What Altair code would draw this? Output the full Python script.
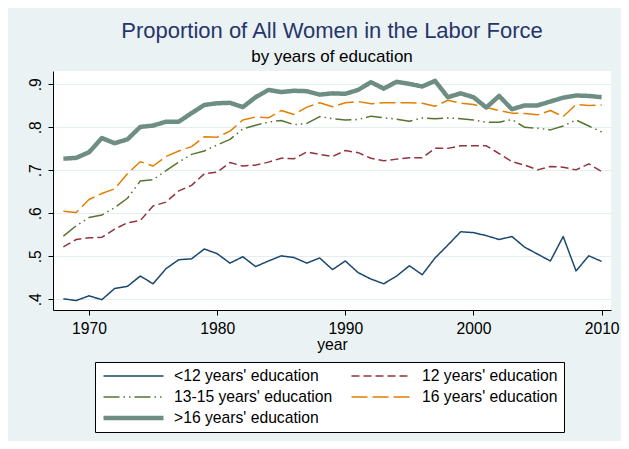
import altair as alt
import pandas as pd

years = list(range(1968, 2011))

lt12 = [0.401, 0.397, 0.408, 0.399, 0.425, 0.430, 0.454, 0.436, 0.471, 0.492, 0.494, 0.517,
        0.506, 0.484, 0.499, 0.476, 0.489, 0.501, 0.497, 0.484, 0.496, 0.469,
        0.489, 0.462, 0.447, 0.436, 0.454, 0.478, 0.457, 0.496, 0.526, 0.557,
        0.555, 0.548, 0.539, 0.546, 0.521, 0.505, 0.489, 0.546, 0.466, 0.501, 0.488]
e12 = [0.522, 0.539, 0.543, 0.544, 0.563, 0.578, 0.583, 0.617, 0.626, 0.652, 0.665, 0.692,
       0.696, 0.718, 0.710, 0.712, 0.719, 0.728, 0.727, 0.743, 0.737, 0.732,
       0.746, 0.741, 0.728, 0.722, 0.726, 0.729, 0.729, 0.751, 0.751, 0.757,
       0.757, 0.757, 0.739, 0.720, 0.712, 0.701, 0.709, 0.707, 0.701, 0.715, 0.697]
e1315 = [0.547, 0.571, 0.590, 0.596, 0.613, 0.635, 0.675, 0.678, 0.699, 0.719, 0.737, 0.745,
         0.759, 0.772, 0.796, 0.805, 0.812, 0.816, 0.806, 0.809, 0.825, 0.820,
         0.817, 0.818, 0.826, 0.822, 0.819, 0.814, 0.822, 0.820, 0.822, 0.820,
         0.817, 0.812, 0.812, 0.818, 0.800, 0.798, 0.794, 0.803, 0.817, 0.803, 0.789]
e16 = [0.605, 0.602, 0.632, 0.646, 0.657, 0.692, 0.720, 0.710, 0.732, 0.745, 0.755, 0.778,
       0.777, 0.791, 0.817, 0.824, 0.822, 0.839, 0.830, 0.847, 0.857, 0.848,
       0.857, 0.860, 0.855, 0.857, 0.857, 0.857, 0.856, 0.849, 0.863, 0.856,
       0.853, 0.846, 0.839, 0.833, 0.832, 0.829, 0.839, 0.825, 0.853, 0.851, 0.852]
gt16 = [0.727, 0.729, 0.742, 0.775, 0.763, 0.772, 0.801, 0.804, 0.813, 0.813, 0.833, 0.852,
        0.856, 0.857, 0.847, 0.870, 0.887, 0.882, 0.885, 0.884, 0.876, 0.879,
        0.878, 0.887, 0.905, 0.890, 0.906, 0.901, 0.895, 0.908, 0.870, 0.879,
        0.870, 0.846, 0.873, 0.842, 0.851, 0.851, 0.860, 0.869, 0.874, 0.873, 0.870]

names = ["<12 years' education", "12 years' education", "13-15 years' education",
         "16 years' education", ">16 years' education"]
series_values = [lt12, e12, e1315, e16, gt16]

x_ticks = [1970, 1980, 1990, 2000, 2010]
y_ticks = [0.4, 0.5, 0.6, 0.7, 0.8, 0.9]

colors = ["#1A476F", "#90353B", "#55752F", "#E37E00", "#6E8E84"]
dashes = [[1, 0], [8, 4], [16, 4, 1.5, 4, 1.5, 4], [16, 5], [1, 0]]
widths = [1.5, 1.5, 1.5, 1.5, 4.5]

rows = []
for n, vals in zip(names, series_values):
    for yr, v in zip(years, vals):
        rows.append({"year": yr, "value": v, "series": n})
df = pd.DataFrame(rows)

FONT = "Liberation Sans"

legend = alt.Legend(
    title=None, orient="none", legendX=42, legendY=291, columns=2,
    direction="horizontal",
    symbolType="stroke", symbolSize=3600, clipHeight=16,
    labelFont=FONT, labelFontSize=15.7, labelColor="black", labelLimit=400,
    labelOffset=8, columnPadding=16, rowPadding=5, padding=6,
    strokeColor="black", fillColor="white",
)

chart = alt.Chart(df).mark_line(strokeCap="butt", strokeJoin="round", clip=True).encode(
    x=alt.X("year:Q",
            scale=alt.Scale(domain=[1967.19, 2010.73], nice=False, zero=False),
            axis=alt.Axis(values=x_ticks, format="d", title="year", grid=False,
                          labelFont=FONT, labelFontSize=15.7, labelColor="black",
                          labelPadding=6, tickSize=5, tickColor="black",
                          domainColor="black", titleFont=FONT, titleFontSize=15.7,
                          titleFontWeight="normal", titleColor="black",
                          titleBaseline="alphabetic", titleY=39)),
    y=alt.Y("value:Q",
            scale=alt.Scale(domain=[0.375, 0.931], nice=False, zero=False),
            axis=alt.Axis(values=y_ticks, title=None, grid=True, gridColor="#E4EDEF",
                          gridWidth=1.2,
                          labelExpr="substring(format(datum.value, '.1f'), 1)",
                          labelAngle=270, labelAlign="center", labelBaseline="alphabetic",
                          labelFont=FONT, labelFontSize=15.7, labelColor="black",
                          labelPadding=8, tickSize=5, tickColor="black",
                          domainColor="black")),
    color=alt.Color("series:N", scale=alt.Scale(domain=names, range=colors), legend=legend),
    strokeDash=alt.StrokeDash("series:N", scale=alt.Scale(domain=names, range=dashes), legend=legend),
    strokeWidth=alt.StrokeWidth("series:N", scale=alt.Scale(type="ordinal", domain=names, range=widths), legend=legend),
    order=alt.Order("year:Q"),
).properties(
    width=558, height=239,
    padding={"left": 45, "top": 63, "right": 10, "bottom": 131},
    autosize=alt.AutoSizeParams(type="none"),
    background="#EAF2F3",
    title=alt.TitleParams(
        text="Proportion of All Women in the Labor Force",
        subtitle="by years of education",
        font=FONT, fontSize=22, fontWeight="normal", color="#26366A",
        subtitleFont=FONT, subtitleFontSize=17, subtitleColor="black",
        anchor="middle", offset=5, subtitlePadding=6,
    ),
).configure_view(fill="white", strokeWidth=0)

chart.save("out.html", embed_options={"renderer": "svg", "actions": False})
